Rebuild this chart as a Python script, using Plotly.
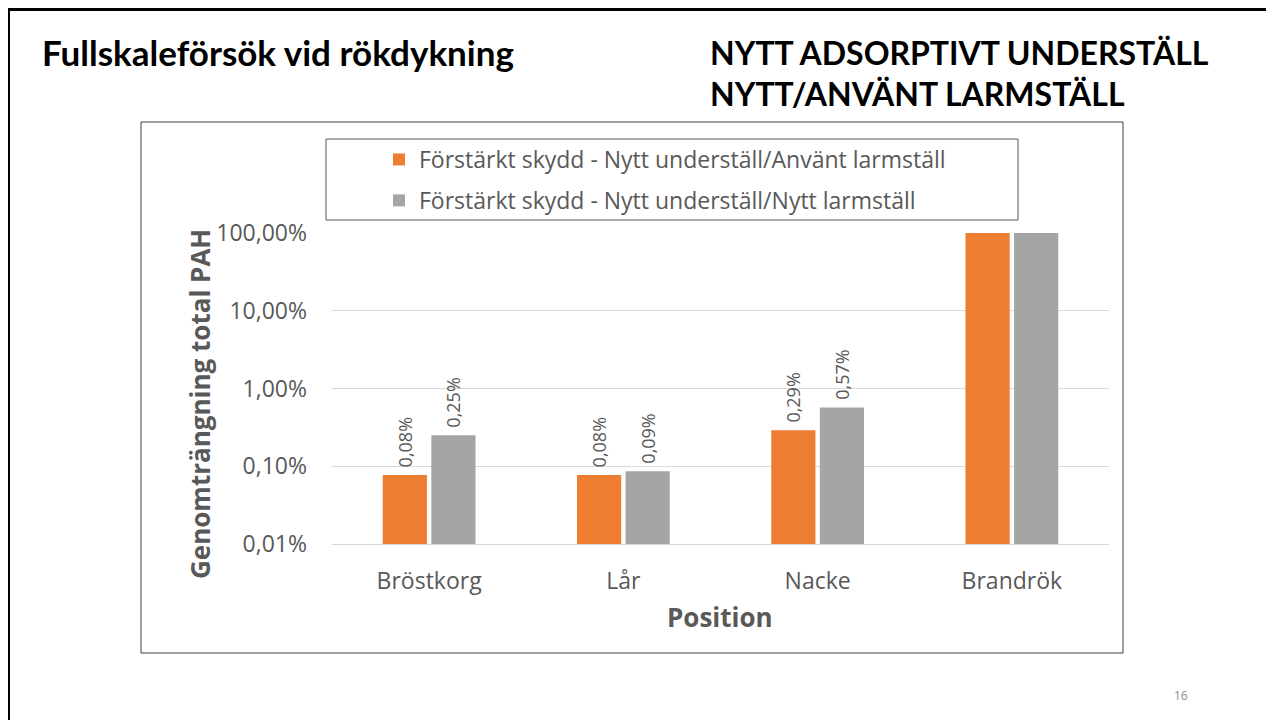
import plotly.graph_objects as go

# ---- data ----
categories = ["Bröstkorg", "Lår", "Nacke", "Brandrök"]
series_names = [
    "Förstärkt skydd - Nytt underställ/Använt larmställ",
    "Förstärkt skydd - Nytt underställ/Nytt larmställ",
]
used_suit = [0.077, 0.077, 0.29, 100.0]      # percent
new_suit = [0.25, 0.086, 0.57, 100.0]        # percent
tick_vals = [0.01, 0.1, 1, 10, 100]
tick_text = ["0,01%", "0,10%", "1,00%", "10,00%", "100,00%"]
label_cats = ["Bröstkorg", "Lår", "Nacke"]   # categories with data labels

ORANGE = "#ED7D31"
GRAY = "#A5A5A5"
TXT = "#595959"
FONT = "Open Sans"

SW, SH = 1274, 720          # screen size
OFF = 8                     # page body margin
W, H = SW - OFF, SH - OFF   # figure size
PL, PR, PT, PB = 332, 1109, 233, 544   # plot area in screen pixels


def px(x):
    return (x - PL) / (PR - PL)


def py(y):
    return (PB - y) / (PB - PT)


def labels(vals):
    return [
        ("\u00a0" + f"{v:.2f}%".replace(".", ",") if c in label_cats else "")
        for c, v in zip(categories, vals)
    ]


fig = go.Figure()
for name, vals, col, grp in [
    (series_names[0], used_suit, ORANGE, "a"),
    (series_names[1], new_suit, GRAY, "b"),
]:
    fig.add_trace(go.Bar(
        x=categories, y=vals, name=name, marker_color=col,
        marker_line_width=0, legendgroup=grp,
        text=labels(vals), textposition="outside", textangle=-90,
        constraintext="none",
        textfont=dict(family=FONT, size=18, color=TXT),
        cliponaxis=False,
    ))

fig.update_layout(
    width=W, height=H,
    margin=dict(l=PL - OFF, r=SW - PR, t=PT - OFF, b=SH - PB, pad=0),
    paper_bgcolor="white", plot_bgcolor="white",
    barmode="group", bargap=0.5, bargroupgap=0.09,
    font=dict(family=FONT, color=TXT),
    showlegend=True,
    legend=dict(
        x=px(379), y=py(138), xanchor="left", yanchor="top",
        xref="paper", yref="paper",
        bgcolor="rgba(0,0,0,0)", borderwidth=0,
        font=dict(family=FONT, size=23, color=TXT),
        tracegroupgap=8,
    ),
)

fig.update_yaxes(
    type="log", range=[-2, 2],
    tickvals=tick_vals, ticktext=tick_text,
    tickfont=dict(family=FONT, size=23, color=TXT),
    showgrid=True, gridcolor="#D9D9D9", gridwidth=1,
    zeroline=False, showline=False, ticks="",
    ticklabelstandoff=24,
)
fig.update_xaxes(
    tickfont=dict(family=FONT, size=23, color=TXT),
    showline=True, linecolor="#D9D9D9", linewidth=1,
    ticks="", ticklabelstandoff=16,
)

shapes = [
    # slide borders (top + left)
    dict(type="line", xref="paper", yref="paper",
         x0=px(0), x1=px(SW), y0=py(9.5), y1=py(9.5),
         line=dict(color="black", width=3)),
    dict(type="line", xref="paper", yref="paper",
         x0=px(8.5), x1=px(8.5), y0=py(8), y1=py(SH),
         line=dict(color="black", width=3)),
    # chart frame
    dict(type="rect", xref="paper", yref="paper",
         x0=px(141), x1=px(1123), y0=py(122), y1=py(653),
         line=dict(color="#404040", width=1), layer="below"),
    # legend frame
    dict(type="rect", xref="paper", yref="paper",
         x0=px(326), x1=px(1018), y0=py(139), y1=py(220),
         line=dict(color="#595959", width=1)),
]
fig.update_layout(shapes=shapes)

TITLE_FONT = "Lato, sans-serif"
annotations = [
    dict(text="<b>Fullskaleförsök vid rökdykning</b>",
         x=px(40), y=py(52), xanchor="left", yanchor="middle",
         font=dict(family=TITLE_FONT, size=35, color="black")),
    dict(text="<b>NYTT ADSORPTIVT UNDERSTÄLL</b>",
         x=px(708), y=py(52), xanchor="left", yanchor="middle",
         font=dict(family=TITLE_FONT, size=32, color="black")),
    dict(text="<b>NYTT/ANVÄNT LARMSTÄLL</b>",
         x=px(708), y=py(93), xanchor="left", yanchor="middle",
         font=dict(family=TITLE_FONT, size=32, color="black")),
    dict(text="<b>Genomträngning total PAH</b>",
         x=px(200), y=py(404), xanchor="center", yanchor="middle",
         textangle=-90,
         font=dict(family=FONT, size=26, color=TXT)),
    dict(text="<b>Position</b>",
         x=px(720), y=py(617), xanchor="center", yanchor="middle",
         font=dict(family=FONT, size=26, color=TXT)),
    dict(text="16",
         x=px(1181), y=py(695), xanchor="center", yanchor="middle",
         font=dict(family=FONT, size=12, color="#8B8B8B")),
]
for a in annotations:
    a.update(xref="paper", yref="paper", showarrow=False)
fig.update_layout(annotations=annotations)

fig.write_html("out.html")
